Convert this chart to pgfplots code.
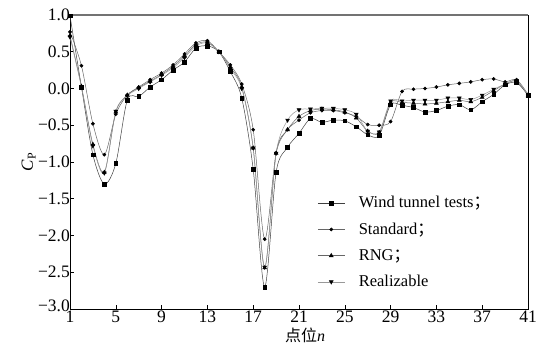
\documentclass[border=0pt]{standalone}
\usepackage{fontspec}
\setmainfont{Liberation Serif}
\newfontfamily\cjk{Noto Sans CJK SC}
\usepackage{pgfplots}
\usepackage{pgfplotstable}
\pgfplotsset{compat=1.18}
\pgfplotstableread{
n wt st rng rea
1 0.99 0.77 0.72 0.70
2 0.02 0.31 0.03 0.02
3 -0.90 -0.48 -0.76 -0.78
4 -1.30 -0.90 -1.14 -1.15
5 -1.02 -0.35 -0.32 -0.31
6 -0.16 -0.09 -0.09 -0.10
7 -0.11 0.02 0.01 0.00
8 0.02 0.12 0.10 0.09
9 0.12 0.21 0.19 0.18
10 0.25 0.32 0.30 0.28
11 0.36 0.47 0.44 0.42
12 0.55 0.62 0.60 0.58
13 0.58 0.65 0.63 0.62
14 0.50 0.50 0.50 0.50
15 0.23 0.32 0.29 0.27
16 -0.13 0.06 0.02 0.00
17 -1.10 -0.56 -0.81 -0.81
18 -2.70 -2.05 -2.44 -2.43
19 -1.14 -0.88 -0.88 -0.88
20 -0.80 -0.56 -0.56 -0.43
21 -0.61 -0.43 -0.38 -0.29
22 -0.41 -0.33 -0.30 -0.28
23 -0.46 -0.30 -0.28 -0.27
24 -0.43 -0.30 -0.29 -0.27
25 -0.44 -0.33 -0.32 -0.29
26 -0.52 -0.38 -0.40 -0.35
27 -0.63 -0.49 -0.58 -0.58
28 -0.64 -0.50 -0.60 -0.59
29 -0.22 -0.45 -0.19 -0.17
30 -0.23 -0.04 -0.19 -0.17
31 -0.26 -0.01 -0.20 -0.16
32 -0.32 0.00 -0.21 -0.16
33 -0.30 0.02 -0.20 -0.16
34 -0.24 0.05 -0.18 -0.13
35 -0.22 0.07 -0.16 -0.13
36 -0.29 0.09 -0.18 -0.15
37 -0.18 0.12 -0.12 -0.09
38 -0.08 0.13 -0.03 -0.01
39 0.05 0.09 0.06 0.06
40 0.08 0.12 0.10 0.11
41 -0.09 -0.08 -0.10 -0.09
}\datatable
\begin{document}
\begin{tikzpicture}
\begin{axis}[
  scale only axis,
  width=458pt, height=294pt,
  xmin=1, xmax=41, ymin=-3, ymax=1,
  xtick={1,5,...,41},
  ytick={-3,-2.5,...,1},
  yticklabels={\raisebox{3pt}[\height][\depth]{−3.0},−2.5,−2.0,−1.5,−1.0,−0.5,0.0,0.5,1.0},
  xtick pos=bottom, ytick pos=left,
  tick align=inside,
  major tick length=4pt,
  axis line style={line width=0.9pt},
  every tick/.style={black, line width=0.6pt},
  tick label style={font=\fontsize{17.5}{19}\selectfont, inner sep=1pt},
  /pgf/number format/assume math mode=true,
  xticklabel style={yshift=-0.5pt},
  yticklabel style={xshift=1pt},
  xlabel={{\cjk 点位}\textit{n}},
  xlabel style={font=\fontsize{16}{18}\selectfont, yshift=-1pt, xshift=6pt},
  ylabel={\textit{C}\textsubscript{P}},
  ylabel style={font=\fontsize{17}{19}\selectfont, yshift=-2pt},
  clip=false,
  legend style={draw=none, fill=none, font=\fontsize{16.5}{18}\selectfont,
    at={(rel axis cs:0.54,0.39)}, anchor=north west, row sep=9.5pt,
    inner sep=0pt},
  legend cell align=left,
  legend image code/.code={\draw[mark repeat=2,mark phase=2] plot coordinates {(0pt,0pt) (13.5pt,0pt) (27pt,0pt)};\path[draw=none,fill=none] (0pt,0pt) rectangle (39pt,0.1pt);},
  every axis plot/.append style={smooth, line width=0.5pt},
]
\addplot[black!75, mark=square*, mark size=1.9pt, mark options={fill=black, draw=black}] table[x=n, y=wt] {\datatable};
\addlegendentry{Wind tunnel tests{\cjk ；}}
\addplot[black!60, mark=*, mark size=1.6pt, mark options={fill=black, draw=black}] table[x=n, y=st] {\datatable};
\addlegendentry{Standard{\cjk ；}}
\addplot[black!60, mark=triangle*, mark size=2.2pt, mark options={fill=black, draw=black}] table[x=n, y=rng] {\datatable};
\addlegendentry{RNG{\cjk ；}}
\addplot[black!40, mark=triangle*, mark size=2.2pt, mark options={fill=black, draw=black, rotate=180}] table[x=n, y=rea] {\datatable};
\addlegendentry{Realizable}
\draw[black!55, line width=1.1pt] (rel axis cs:0,1) -- (rel axis cs:1,1);
\path (rel axis cs:0,0) ++(-70pt,-38pt) coordinate (bbsw);
\path (rel axis cs:1,1) ++(13pt,15pt) coordinate (bbne);
\end{axis}
\pgfresetboundingbox
\path (bbsw) rectangle (bbne);
\end{tikzpicture}
\end{document}
